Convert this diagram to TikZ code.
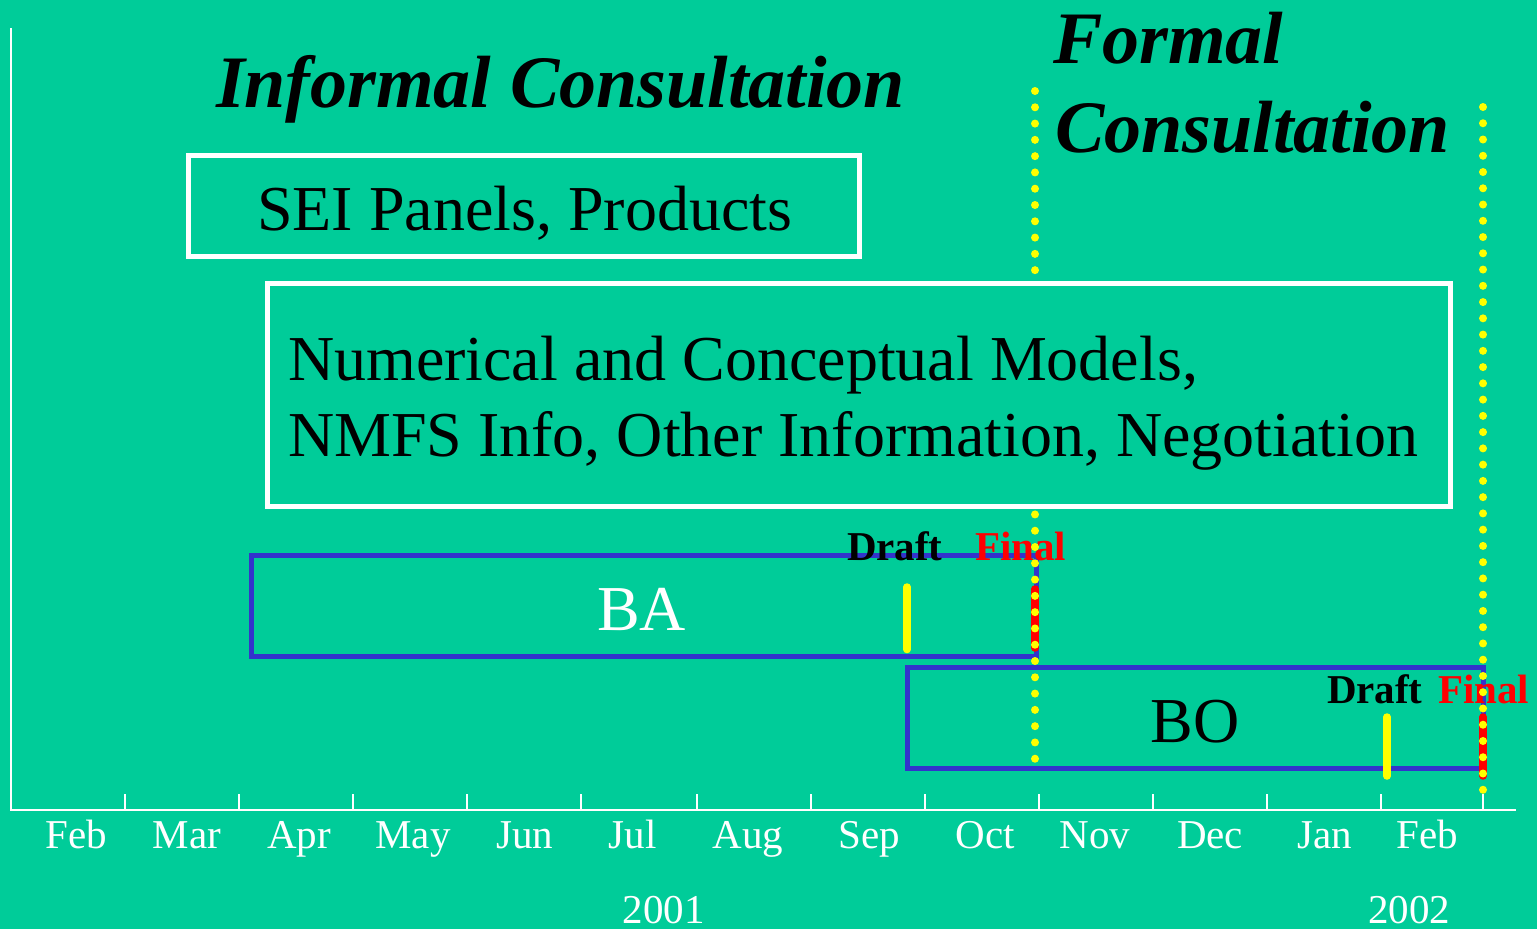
\documentclass[tikz,border=0pt]{standalone}
\usepackage{fontspec}
\setmainfont{Liberation Serif}
\definecolor{bg}{RGB}{0,204,153}
\definecolor{bablue}{RGB}{51,51,204}
\definecolor{dotyellow}{RGB}{255,255,0}
\definecolor{finalred}{RGB}{255,0,0}
\begin{document}
\begin{tikzpicture}[x=1pt,y=-1pt,
  lbl/.style={inner sep=0pt, outer sep=0pt},
  bigtxt/.style={lbl, font=\fontsize{64}{76}\selectfont},
  titletxt/.style={lbl, font=\fontsize{74}{89}\selectfont\bfseries\itshape, text=black},
  montxt/.style={lbl, anchor=base, font=\fontsize{41}{49}\selectfont, text=white},
  tagtxt/.style={lbl, anchor=base west, font=\fontsize{41}{49}\selectfont\bfseries},
  axisline/.style={draw=white, line width=2pt},
  whitebox/.style={draw=white, line width=5pt},
  bluebox/.style={draw=bablue, line width=5pt},
  markbar/.style={line width=7.5pt, line cap=round},
  dotline/.style={draw=dotyellow, line width=8pt, line cap=round}
]
\useasboundingbox (0,0) rectangle (1537,929);
\fill[bg] (0,0) rectangle (1537,929);

% axis
\draw[axisline] (11,28) -- (11,810) -- (1516,810);
\foreach \x in {125,239,353,467,581,697,811,925,1039,1153,1267,1381,1483}
  \draw[axisline] (\x,794) -- (\x,810);
\foreach \x/\m [count=\i] in {76.7/Feb,187/Mar,299/Apr,413/May,525/Jun,632.5/Jul,748/Aug,869.5/Sep,985.5/Oct,1095/Nov,1210/Dec,1325/Jan,1427/Feb}
  \node[montxt] (m\i) at (\x,848) {\m};
\node[montxt] (y2001) at (663.5,923) {2001};
\node[montxt] (y2002) at (1409,923) {2002};

% titles
\node[titletxt, anchor=base west] (informal) at (216,107) {Informal Consultation};
\node[titletxt, anchor=base west] (formal1) at (1053,63) {Formal};
\node[titletxt, anchor=base west] (formal2) at (1055,152) {Consultation};

% SEI box
\draw[whitebox] (188,155) rectangle (859,256.5);
\node[bigtxt, anchor=base west] (sei) at (257,230) {SEI Panels, Products};

% BA and BO boxes
\draw[bluebox] (251,555) rectangle (1036,656);
\draw[bluebox] (907,667) rectangle (1483,768);
\node[bigtxt, anchor=base, text=white] (ba) at (641.5,630) {BA};
\node[bigtxt, anchor=base, text=black] (bo) at (1195,742.5) {BO};

% Draft / Final labels
\node[tagtxt, text=black] (draft1) at (847,560) {Draft};
\node[tagtxt, text=finalred] (final1) at (975,560) {Final};
\node[tagtxt, text=black] (draft2) at (1327,703) {Draft};
\node[tagtxt, text=finalred] (final2) at (1438,703) {Final};

% draft / final markers
\coordinate (d1a) at (907,587);  \coordinate (d1b) at (907,649.5);
\coordinate (f1a) at (1035,589); \coordinate (f1b) at (1035,648);
\coordinate (d2a) at (1387,717); \coordinate (d2b) at (1387,776);
\coordinate (f2a) at (1483,717); \coordinate (f2b) at (1483,776);
\draw[markbar, draw=dotyellow] (d1a) -- (d1b);
\draw[markbar, draw=finalred] (f1a) -- (f1b);
\draw[markbar, draw=dotyellow] (d2a) -- (d2b);
\draw[markbar, draw=finalred] (f2a) -- (f2b);

% dotted boundaries
\coordinate (v1top) at (1035,91);  \coordinate (v1bot) at (1035,775);
\coordinate (v2top) at (1483,107); \coordinate (v2bot) at (1483,806);
\draw[dotline, dash pattern=on 0pt off 16.286pt] (v1top) -- (v1bot);
\draw[dotline, dash pattern=on 0pt off 16.256pt] (v2top) -- (v2bot);

% big info box (covers the dotted line)
\draw[whitebox, fill=bg] (267,283) rectangle (1450,506.5);
\node[bigtxt, anchor=base west] (num1) at (288,380) {Numerical and Conceptual Models,};
\node[bigtxt, anchor=base west] (num2) at (288,456.5) {NMFS Info, Other Information, Negotiation};
\end{tikzpicture}
\end{document}
